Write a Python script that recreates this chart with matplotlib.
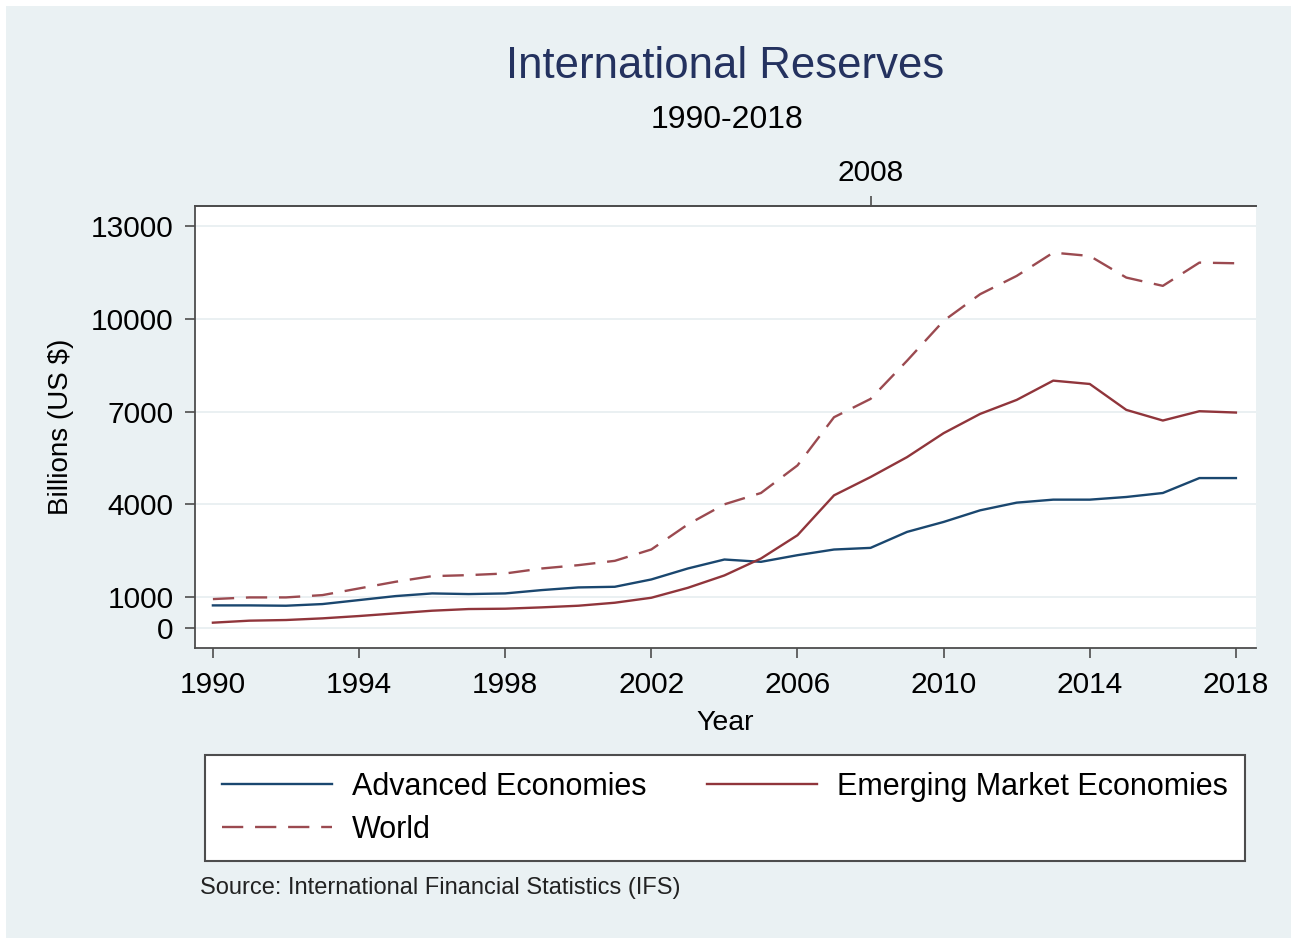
import matplotlib
matplotlib.use("Agg")
import matplotlib.pyplot as plt
from matplotlib.patches import Rectangle

plt.rcParams['font.family'] = ['Liberation Sans', 'DejaVu Sans']

years = list(range(1990, 2019))
advanced = [731, 731, 720, 774, 903, 1032, 1118, 1097, 1118, 1226, 1312, 1333, 1570, 1925,
            2215, 2140, 2355, 2538, 2591, 3108, 3430, 3806, 4054, 4151, 4151, 4237, 4366,
            4849, 4849]
emerging = [172, 237, 258, 312, 387, 473, 559, 613, 624, 667, 720, 817, 978, 1300,
            1700, 2247, 3000, 4290, 4882, 5527, 6301, 6925, 7377, 8000, 7892, 7054, 6710,
            7011, 6968]
world = [935, 989, 989, 1064, 1280, 1495, 1677, 1710, 1763, 1925, 2032, 2172, 2540, 3350,
         4000, 4366, 5258, 6817, 7409, 8645, 9935, 10796, 11387, 12140, 12032, 11333, 11065,
         11817, 11796]

yticks = [0, 1000, 4000, 7000, 10000, 13000]
xticks = [1990, 1994, 1998, 2002, 2006, 2010, 2014, 2018]
top_ticks = [2008]

W, H = 1291, 938
bg = '#EAF1F3'
navy = '#1A476F'
maroon = '#90353B'
world_col = '#9B4A50'
spine_col = '#4D4D4D'

fig = plt.figure(figsize=(W / 100, H / 100), dpi=100, facecolor='white')
fig.patches.append(Rectangle((6 / W, 0), 1 - 6 / W, 1 - 6 / H, transform=fig.transFigure,
                             facecolor=bg, edgecolor='none', zorder=-10))

ax = fig.add_axes([195 / W, 1 - 648 / H, (1256 - 195) / W, (648 - 206) / H])
ax.set_facecolor('white')

l1, = ax.plot(years, advanced, color=navy, lw=1.7, label='Advanced Economies')
l2, = ax.plot(years, emerging, color=maroon, lw=1.7, label='Emerging Market Economies')
l3, = ax.plot(years, world, color=world_col, lw=1.7, linestyle=(0, (9, 5)), label='World')

ax.set_xlim(1989.51, 2018.55)
ax.set_ylim(-647, 13648)
ax.set_xticks(xticks)
ax.set_yticks(yticks)
ax.tick_params(axis='both', labelsize=21.5, length=7.5, width=1.2, color=spine_col)
ax.tick_params(axis='x', pad=9)
ax.tick_params(axis='y', pad=8)
ax.grid(axis='y', color='#E6EEF0', lw=1.2)
ax.set_axisbelow(True)
for s in ['left', 'bottom', 'top']:
    ax.spines[s].set_color(spine_col)
    ax.spines[s].set_linewidth(1.3)
ax.spines['right'].set_visible(False)

ax.set_xlabel('Year', fontsize=20.5, labelpad=8)
ax.set_ylabel('Billions (US $)', fontsize=20, labelpad=12)

sec = ax.secondary_xaxis('top')
sec.set_xticks(top_ticks)
sec.tick_params(labelsize=21.5, length=7.5, width=1.2, color=spine_col, pad=6)
sec.spines['top'].set_color(spine_col)
sec.spines['top'].set_linewidth(1.3)

fig.text(725 / W, 1 - 66 / H, 'International Reserves', ha='center', va='center',
         fontsize=31.5, color='#24325F')
fig.text(727 / W, 1 - 120 / H, '1990-2018', ha='center', va='center', fontsize=23)

leg = fig.legend([l1, l3, l2], ['Advanced Economies', 'World', 'Emerging Market Economies'],
                 ncol=2, loc='upper left', mode='expand', borderaxespad=0,
                 bbox_to_anchor=(205 / W, 1 - 858 / H, (1245 - 205) / W, (858 - 755) / H),
                 fontsize=22, handlelength=3.6, handletextpad=0.65, labelspacing=0.42,
                 borderpad=0.55, columnspacing=1.0, frameon=True, fancybox=False,
                 edgecolor=spine_col, facecolor='white', framealpha=1)
leg.get_frame().set_linewidth(1.5)

fig.text(200 / W, 1 - 888 / H, 'Source: International Financial Statistics (IFS)',
         ha='left', va='center', fontsize=17, color='#222222')

fig.savefig('out.png', dpi=100, facecolor=fig.get_facecolor())
